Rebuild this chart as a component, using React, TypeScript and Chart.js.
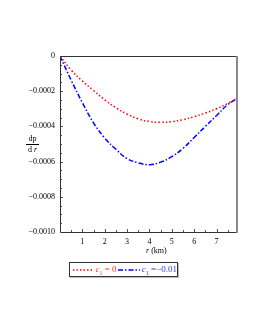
import React, { useEffect, useRef } from "react";
import { Chart, registerables } from "chart.js";

Chart.register(...registerables);

// r (km)
const rValues = [0, 0.5, 1.0, 1.5, 2.0, 2.5, 3.0, 3.5, 4.0, 4.5, 5.0, 5.5, 6.0, 6.5, 7.0, 7.5, 7.87];
// dp/dr for c1 = 0
const seriesC0 = [0, -0.00008, -0.000142, -0.000196, -0.000249, -0.000294, -0.00033, -0.000357, -0.000372, -0.000377, -0.000373, -0.000362, -0.000345, -0.000324, -0.0003, -0.00027, -0.000244];
// dp/dr for c1 = -0.01
const seriesCm001 = [0, -0.000138, -0.000265, -0.00038, -0.000466, -0.00053, -0.000583, -0.000607, -0.000618, -0.000603, -0.000572, -0.000525, -0.000463, -0.0004, -0.000338, -0.000276, -0.000245];

const xTickValues = [1, 2, 3, 4, 5, 6, 7];
const yTickLabels: Record<string, string> = {
  "0": "0",
  "-0.0002": "\u22120.0002",
  "-0.0004": "\u22120.0004",
  "-0.0006": "\u22120.0006",
  "-0.0008": "\u22120.0008",
  "-0.001": "\u22120.0010",
};
const legendValues = ["0", "\u22120.01"];

const FONT = "'Liberation Serif', 'Times New Roman', serif";

const boxPlugin = {
  id: "boxPlugin",
  afterDraw(chart: any) {
    const { ctx, chartArea } = chart;
    const { left, right, top, bottom } = chartArea;
    ctx.save();
    ctx.strokeStyle = "#555";
    ctx.lineWidth = 1;
    const xs = chart.scales.x;
    const ys = chart.scales.y;
    for (let v = 0.5; v < 7.9; v += 0.5) {
      const px = Math.round(xs.getPixelForValue(v)) + 0.5;
      const len = Number.isInteger(v) ? 3 : 2;
      ctx.beginPath();
      ctx.moveTo(px, bottom);
      ctx.lineTo(px, bottom - len);
      ctx.stroke();
    }
    for (let i = 1; i < 20; i++) {
      const v = -0.00005 * i;
      const py = Math.round(ys.getPixelForValue(v)) + 0.5;
      const len = i % 4 === 0 ? 3 : 2;
      ctx.beginPath();
      ctx.moveTo(left, py);
      ctx.lineTo(left + len, py);
      ctx.stroke();
    }
    ctx.strokeStyle = "#333";
    ctx.lineWidth = 1;
    ctx.beginPath();
    ctx.moveTo(Math.round(right) + 0.5, Math.round(top) + 0.5);
    ctx.lineTo(Math.round(left) + 0.5, Math.round(top) + 0.5);
    ctx.lineTo(Math.round(left) + 0.5, Math.round(bottom) + 0.5);
    ctx.lineTo(Math.round(right) + 0.5, Math.round(bottom) + 0.5);
    ctx.stroke();
    ctx.strokeStyle = "#8a8a8a";
    ctx.lineWidth = 2;
    ctx.beginPath();
    ctx.moveTo(Math.round(right) + 1, Math.round(top));
    ctx.lineTo(Math.round(right) + 1, Math.round(bottom) + 1);
    ctx.stroke();
    ctx.restore();
  },
};

export default function App() {
  const canvasRef = useRef<HTMLCanvasElement | null>(null);

  useEffect(() => {
    if (!canvasRef.current) return;
    const chart = new Chart(canvasRef.current, {
      type: "line",
      data: {
        datasets: [
          {
            label: "c1 = " + legendValues[0],
            data: rValues.map((r, i) => ({ x: r, y: seriesC0[i] })),
            borderColor: "#ff0000",
            borderWidth: 1.5,
            borderDash: [1.5, 2.2],
            pointRadius: 0,
            tension: 0.4,
          },
          {
            label: "c1 = " + legendValues[1],
            data: rValues.map((r, i) => ({ x: r, y: seriesCm001[i] })),
            borderColor: "#0000ff",
            borderWidth: 1.5,
            borderDash: [5, 2, 1.5, 2],
            pointRadius: 0,
            tension: 0.4,
          },
        ],
      },
      options: {
        animation: false,
        responsive: true,
        maintainAspectRatio: false,
        layout: { padding: { left: 0, right: 19, top: 56, bottom: 78 } },
        plugins: { legend: { display: false }, tooltip: { enabled: false } },
        scales: {
          x: {
            type: "linear",
            min: 0,
            max: 7.87,
            grid: { display: false, drawTicks: false },
            border: { display: false },
            afterFit(scale: any) {
              scale.height = 20;
            },
            afterBuildTicks(scale: any) {
              scale.ticks = xTickValues.map((v) => ({ value: v }));
            },
            ticks: {
              color: "#000",
              padding: 5,
              font: { family: FONT, size: 8 },
              maxRotation: 0,
              callback: (v: any) => String(v),
            },
          },
          y: {
            type: "linear",
            min: -0.001,
            max: 0,
            grid: { display: false, drawTicks: false },
            border: { display: false },
            afterFit(scale: any) {
              scale.width = 60;
            },
            afterBuildTicks(scale: any) {
              scale.ticks = Object.keys(yTickLabels).map((k) => ({ value: Number(k) }));
            },
            ticks: {
              color: "#000",
              padding: 5,
              font: { family: FONT, size: 8 },
              callback: (v: any) => yTickLabels[String(Number(v))] ?? String(v),
            },
          },
        },
      },
      plugins: [boxPlugin],
    } as any);
    return () => chart.destroy();
  }, []);

  const serif = { fontFamily: FONT } as React.CSSProperties;

  return (
    <div style={{ position: "absolute", left: 0, top: 0, width: 255, height: 330, background: "#fff", ...serif }}>
      <canvas ref={canvasRef} />
      <div style={{ position: "absolute", left: 26, top: 134, width: 13, textAlign: "center", fontSize: 8, lineHeight: "9px", color: "#000" }}>
        <div>dp</div>
        <div style={{ borderTop: "1px solid #000", marginTop: 1 }}>
          d <i>r</i>
        </div>
      </div>
      <div style={{ position: "absolute", left: 146, top: 246, fontSize: 8, color: "#000", whiteSpace: "nowrap" }}>
        <i>r</i> (km)
      </div>
      <div
        style={{
          position: "absolute",
          left: 69,
          top: 262,
          width: 107,
          height: 13,
          border: "1px solid #333",
          boxShadow: "1px 1px 0 #bbb",
          display: "flex",
          alignItems: "center",
          fontSize: 9,
          whiteSpace: "nowrap",
        }}
      >
        <svg width={20} height={8} style={{ marginLeft: 3 }}>
          <line x1={0} y1={4} x2={19} y2={4} stroke="#ff0000" strokeWidth={1.5} strokeDasharray="1.5 2" />
        </svg>
        <span style={{ color: "#ff3333", marginLeft: 3 }}>
          <i>c</i>
          <sub style={{ fontSize: 6 }}>1</sub>
          {" = " + legendValues[0]}
        </span>
        <svg width={22} height={8} style={{ marginLeft: 2 }}>
          <line x1={0} y1={4} x2={22} y2={4} stroke="#0000ff" strokeWidth={1.5} strokeDasharray="5 2 1.5 2" />
        </svg>
        <span style={{ color: "#3333ff", marginLeft: 2 }}>
          <i>c</i>
          <sub style={{ fontSize: 6 }}>1</sub>
          {" =" + legendValues[1]}
        </span>
      </div>
    </div>
  );
}
